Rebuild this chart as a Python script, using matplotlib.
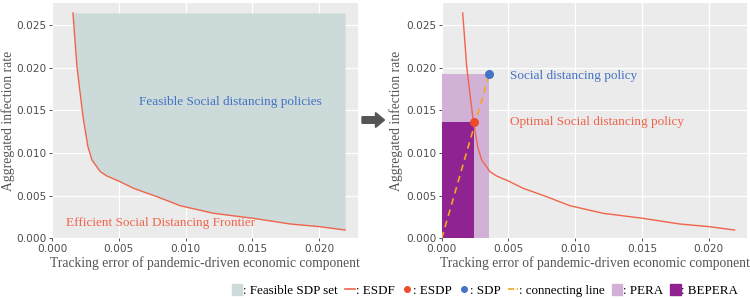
import numpy as np
import matplotlib
matplotlib.use("Agg")
import matplotlib.pyplot as plt
from matplotlib.patches import Patch, FancyArrow
from matplotlib.lines import Line2D
from matplotlib.font_manager import FontProperties

# efficient social distancing frontier
esdf_x = [0.00157, 0.00187, 0.00232, 0.00269, 0.00299, 0.00361, 0.00411, 0.00498,
          0.0061, 0.00785, 0.0096, 0.01209, 0.01508, 0.01782, 0.02007, 0.02194]
esdf_y = [0.0264, 0.0201, 0.01426, 0.01074, 0.00918, 0.00781, 0.0073, 0.00672,
          0.00586, 0.00488, 0.00382, 0.00293, 0.00234, 0.00168, 0.00136, 0.00097]
feasible_top = 0.0264

sdp = (0.00355, 0.0192)
esdp = (0.0024, 0.0136)

xticks = [0.0, 0.005, 0.010, 0.015, 0.020]
yticks = [0.0, 0.005, 0.010, 0.015, 0.020, 0.025]

BG = "#EBEBEB"
RED = "#F0644C"
BLUE = "#4472C4"
FEAS = "#CCDBD9"
PERA_C = "#D2B1D6"
BEPERA_C = "#8E2391"
SERIF = "Liberation Serif"

fig = plt.figure(figsize=(7.5, 2.98), dpi=100)
ax1 = fig.add_axes([0.0693, 0.2003, 0.408, 0.7906])
ax2 = fig.add_axes([0.589, 0.2003, 0.4075, 0.7906])


def style(ax, ylab_x):
    ax.set_facecolor(BG)
    for s in ax.spines.values():
        s.set_visible(False)
    ax.grid(True, color="white", linewidth=0.9)
    ax.set_axisbelow(True)
    ax.set_xlim(0, 0.0229)
    ax.set_ylim(0, 0.0276)
    ax.set_xticks(xticks)
    ax.set_yticks(yticks)
    ax.set_xticklabels([f"{v:.3f}" for v in xticks])
    ax.set_yticklabels([f"{v:.3f}" for v in yticks])
    ax.tick_params(colors="#333333", labelcolor="#4D4D4D", labelsize=7.6,
                   length=2.5, width=0.6, pad=1.5)
    ax.set_xlabel("Tracking error of pandemic-driven economic component",
                  family=SERIF, fontsize=9.8, color="#555555", labelpad=2)
    ax.set_ylabel("Aggregated infection rate", family=SERIF, fontsize=9.8,
                  color="#555555")
    ax.yaxis.set_label_coords(ylab_x, 0.5)


style(ax1, -0.122)
style(ax2, -0.128)

# left panel
ax1.fill_between(esdf_x, esdf_y, feasible_top, color=FEAS, linewidth=0, zorder=1)
ax1.plot(esdf_x, esdf_y, color=RED, linewidth=1.0, zorder=2)
ax1.text(0.0065, 0.016, "Feasible Social distancing policies", color=BLUE,
         family=SERIF, fontsize=9.5, va="center")
ax1.text(0.00105, 0.00176, "Efficient Social Distancing Frontier", color=RED,
         family=SERIF, fontsize=9.5, va="center")

# right panel
ax2.fill_between([0, sdp[0]], 0, sdp[1], color=PERA_C, linewidth=0, zorder=1)
ax2.fill_between([0, esdp[0]], 0, esdp[1], color=BEPERA_C, linewidth=0, zorder=1)
ax2.plot(esdf_x, esdf_y, color=RED, linewidth=1.0, zorder=2)
ax2.plot([0, sdp[0]], [0, sdp[1]], color="#F5A623", linestyle="--",
         linewidth=1.2, dashes=(4, 3), zorder=3)
ax2.scatter([sdp[0]], [sdp[1]], color=BLUE, s=30, zorder=4)
ax2.scatter([esdp[0]], [esdp[1]], color="#EE4B2B", s=30, zorder=4)
ax2.text(0.00512, 0.019, "Social distancing policy", color=BLUE,
         family=SERIF, fontsize=9.5, va="center")
ax2.text(0.00512, 0.01366, "Optimal Social distancing policy", color=RED,
         family=SERIF, fontsize=9.5, va="center")

# arrow between panels
fig.patches.append(FancyArrow(362 / 750, 1 - 120 / 298, 0.030, 0, width=0.022,
                              head_width=0.05, head_length=0.012,
                              length_includes_head=True, color="#555555",
                              transform=fig.transFigure, figure=fig))

handles = [
    Patch(color=FEAS),
    Line2D([], [], color=RED, linewidth=1.2),
    Line2D([], [], color="#EE4B2B", marker="o", linestyle="", markersize=4),
    Line2D([], [], color=BLUE, marker="o", linestyle="", markersize=4),
    Line2D([], [], color="#F5A623", linestyle="--", linewidth=1.2),
    Patch(color=PERA_C),
    Patch(color=BEPERA_C),
]
labels = [": Feasible SDP set", ": ESDF", ": ESDP", ": SDP", ": connecting line",
          ": PERA", ": BEPERA"]
fig.legend(handles, labels, ncol=7, loc="lower right", bbox_to_anchor=(1.0, -0.035),
           frameon=False, prop=FontProperties(family=SERIF, size=9.4),
           handlelength=0.8, handleheight=0.9, handletextpad=0.05,
           columnspacing=0.55)

fig.savefig("out.png", dpi=100)
